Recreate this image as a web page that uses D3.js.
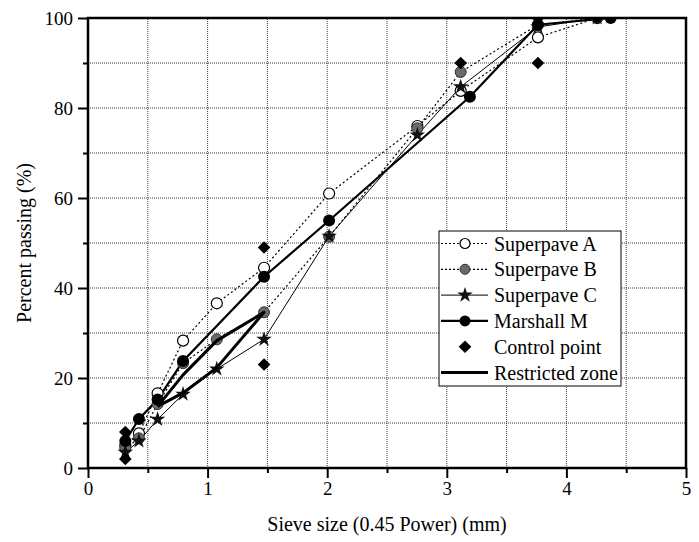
<!DOCTYPE html>
<html>
<head>
<meta charset="utf-8">
<script src="https://cdn.jsdelivr.net/npm/d3@7"></script>
<style>
  body { margin: 0; background: #fff; }
  text { font-family: "Liberation Serif", "Times New Roman", serif; fill: #000; }
</style>
</head>
<body>
<div id="chart"></div>
<script>
// sieve positions (size^0.45)
const sieveSP = [0.312, 0.426, 0.582, 0.795, 1.077, 1.472, 2.016, 2.754, 3.116, 3.762, 4.257];
const superpaveA = [5, 7.7, 16.6, 28.3, 36.6, 44.5, 61, 76, 83.8, 95.7, 100];
const superpaveB = [4.3, 6.6, 14.2, 23.3, 28.6, 34.6, 51.4, 75.5, 88, 98.5, 100];
const superpaveC = [3.5, 6, 10.8, 16.4, 22, 28.6, 51.5, 74, 84.7, 98, 100];

const sieveM = [0.312, 0.426, 0.582, 0.795, 1.472, 2.016, 3.193, 3.762, 4.37];
const marshallM = [6, 10.9, 15.2, 23.8, 42.5, 55, 82.5, 98.5, 100];

const controlX = [0.312, 0.312, 1.472, 1.472, 3.116, 3.762, 3.762, 4.257];
const controlY = [2, 8, 23, 49, 90, 90, 100, 100];

// restricted zone outline
const zoneX = [0.582, 0.795, 1.077, 1.472, 1.077, 0.795, 0.582];
const zoneY = [13.7, 20.7, 28.3, 34.6, 22.3, 16.7, 13.7];

const xTicks = [0, 1, 2, 3, 4, 5];
const yTicks = [0, 20, 40, 60, 80, 100];

const legendLabels = ["Superpave A", "Superpave B", "Superpave C", "Marshall M", "Control point", "Restricted zone"];

let w = 699;
let h = 542;
let marginTop = 18;
let marginRight = 13;
let marginBottom = 74;
let marginLeft = 88;

let x = d3.scaleLinear().domain([0, 5]).range([marginLeft, w - marginRight]);
let y = d3.scaleLinear().domain([0, 100]).range([h - marginBottom, marginTop]);

let svg = d3.select("#chart").append("svg").attr("width", w).attr("height", h);

svg.append("defs").append("clipPath").attr("id", "plotClip")
  .append("rect")
  .attr("x", x(0)).attr("y", y(100))
  .attr("width", x(5) - x(0)).attr("height", y(0) - y(100));

// grid
let grid = svg.append("g").attr("stroke", "#3a3a3a").attr("stroke-width", 1).attr("stroke-dasharray", "1,1");
grid.selectAll("line.vx")
  .data(d3.range(0.5, 5, 0.5))
  .enter().append("line")
  .attr("x1", d => x(d)).attr("x2", d => x(d))
  .attr("y1", y(0)).attr("y2", y(100));
grid.selectAll("line.hy")
  .data(d3.range(10, 100, 10))
  .enter().append("line")
  .attr("x1", x(0)).attr("x2", x(5))
  .attr("y1", d => y(d)).attr("y2", d => y(d));

// axes
let xAxis = d3.axisBottom(x).tickValues(xTicks).tickFormat(d3.format("d")).tickSize(10).tickPadding(4);
let xMinor = d3.axisBottom(x).tickValues(d3.range(0.5, 5, 1)).tickFormat("").tickSize(5);
let yAxis = d3.axisLeft(y).tickValues(yTicks).tickSize(10).tickPadding(5);
let yMinor = d3.axisLeft(y).tickValues(d3.range(10, 100, 20)).tickFormat("").tickSize(5);

function styleAxis(g) {
  g.select(".domain").remove();
  g.selectAll(".tick line").attr("stroke", "#000").attr("stroke-width", 2);
  g.selectAll(".tick text")
    .style("font-size", "19px")
    .style("font-family", "'Liberation Serif', 'Times New Roman', serif");
}

svg.append("g").attr("transform", `translate(0,${y(0)})`).call(xAxis).call(styleAxis);
svg.append("g").attr("transform", `translate(0,${y(0)})`).call(xMinor).call(styleAxis);
svg.append("g").attr("transform", `translate(${x(0)},0)`).call(yAxis).call(styleAxis);
svg.append("g").attr("transform", `translate(${x(0)},0)`).call(yMinor).call(styleAxis);

let plot = svg.append("g").attr("clip-path", "url(#plotClip)");

let line = d3.line().x(d => x(d[0])).y(d => y(d[1]));

function pairs(xs, ys) {
  return xs.map((v, i) => [v, ys[i]]);
}

const seriesA = pairs(sieveSP, superpaveA);
const seriesB = pairs(sieveSP, superpaveB);
const seriesC = pairs(sieveSP, superpaveC);
const seriesM = pairs(sieveM, marshallM);
const control = pairs(controlX, controlY);
const zone = pairs(zoneX, zoneY);

// lines
plot.append("path").attr("d", line(seriesA)).attr("fill", "none").attr("stroke", "#000").attr("stroke-width", 1.2).attr("stroke-dasharray", "2,2.5");
plot.append("path").attr("d", line(seriesB)).attr("fill", "none").attr("stroke", "#000").attr("stroke-width", 1.2).attr("stroke-dasharray", "2,2.5");
plot.append("path").attr("d", line(seriesC)).attr("fill", "none").attr("stroke", "#000").attr("stroke-width", 1);
plot.append("path").attr("d", line(seriesM)).attr("fill", "none").attr("stroke", "#000").attr("stroke-width", 2.2);

let star = d3.symbol().type(d3.symbolStar).size(75);
let diamond = d3.symbol().type(d3.symbolSquare).size(80);

// markers
plot.selectAll("circle.a").data(seriesA).enter().append("circle")
  .attr("cx", d => x(d[0])).attr("cy", d => y(d[1])).attr("r", 5.5)
  .attr("fill", "#fff").attr("stroke", "#000").attr("stroke-width", 1.2);
plot.selectAll("circle.b").data(seriesB).enter().append("circle")
  .attr("cx", d => x(d[0])).attr("cy", d => y(d[1])).attr("r", 5.5)
  .attr("fill", "#6a6a6a").attr("stroke", "#333").attr("stroke-width", 1);
plot.selectAll("path.c").data(seriesC).enter().append("path")
  .attr("d", star).attr("transform", d => `translate(${x(d[0])},${y(d[1])})`)
  .attr("fill", "#111");
plot.selectAll("circle.m").data(seriesM).enter().append("circle")
  .attr("cx", d => x(d[0])).attr("cy", d => y(d[1])).attr("r", 6)
  .attr("fill", "#000");
plot.selectAll("path.cp").data(control).enter().append("path")
  .attr("d", diamond).attr("transform", d => `translate(${x(d[0])},${y(d[1])}) rotate(45)`)
  .attr("fill", "#000");

plot.append("path").attr("d", line(zone)).attr("fill", "none").attr("stroke", "#000").attr("stroke-width", 3).attr("stroke-linejoin", "round");

// frame
svg.append("rect")
  .attr("x", x(0)).attr("y", y(100))
  .attr("width", x(5) - x(0)).attr("height", y(0) - y(100))
  .attr("fill", "none").attr("stroke", "#000").attr("stroke-width", 2.5);

// axis titles
svg.append("text")
  .attr("x", (x(0) + x(5)) / 2).attr("y", 531)
  .attr("text-anchor", "middle").style("font-size", "20px")
  .text("Sieve size (0.45 Power) (mm)");
svg.append("text")
  .attr("transform", `translate(31,${(y(0) + y(100)) / 2}) rotate(-90)`)
  .attr("text-anchor", "middle").style("font-size", "20px")
  .text("Percent passing (%)");

// legend
let lx = 439, ly = 231, rowH = 25.8;
let legend = svg.append("g");
legend.append("rect").attr("x", lx).attr("y", ly).attr("width", 182).attr("height", 155)
  .attr("fill", "#fff").attr("stroke", "#000").attr("stroke-width", 1);

let rows = legend.selectAll("g.row").data(legendLabels).enter().append("g")
  .attr("transform", (d, i) => `translate(${lx},${ly + 12.5 + i * rowH})`);

rows.append("text").attr("x", 55).attr("y", 0).attr("dy", "0.35em")
  .style("font-size", "20px").text(d => d);

rows.each(function (d, i) {
  let g = d3.select(this);
  if (i === 0 || i === 1) {
    g.append("line").attr("x1", 2).attr("x2", 49).attr("stroke", "#000").attr("stroke-width", 1.2).attr("stroke-dasharray", "2,2");
  } else if (i === 2) {
    g.append("line").attr("x1", 2).attr("x2", 49).attr("stroke", "#000").attr("stroke-width", 1);
  } else if (i === 3) {
    g.append("line").attr("x1", 2).attr("x2", 49).attr("stroke", "#000").attr("stroke-width", 2.2);
  } else if (i === 5) {
    g.append("line").attr("x1", 2).attr("x2", 49).attr("stroke", "#000").attr("stroke-width", 3);
  }
  if (i === 0) {
    g.append("circle").attr("cx", 26).attr("r", 5).attr("fill", "#fff").attr("stroke", "#000").attr("stroke-width", 1.2);
  } else if (i === 1) {
    g.append("circle").attr("cx", 26).attr("r", 5).attr("fill", "#6a6a6a").attr("stroke", "#333");
  } else if (i === 2) {
    g.append("path").attr("d", star).attr("transform", "translate(26,0)").attr("fill", "#111");
  } else if (i === 3) {
    g.append("circle").attr("cx", 26).attr("r", 5.5).attr("fill", "#000");
  } else if (i === 4) {
    g.append("path").attr("d", diamond).attr("transform", "translate(26,0) rotate(45)").attr("fill", "#000");
  }
});
</script>
</body>
</html>
